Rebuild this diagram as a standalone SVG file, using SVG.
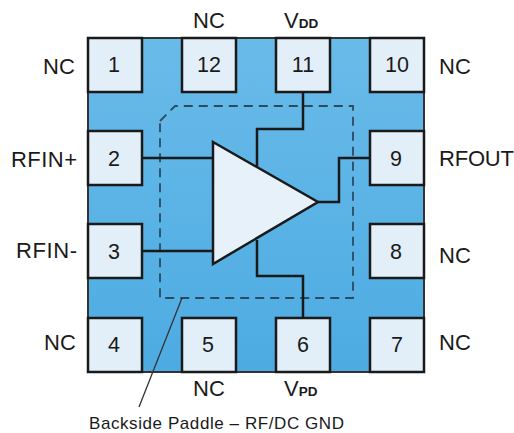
<svg xmlns="http://www.w3.org/2000/svg" width="514" height="433" viewBox="0 0 514 433">
<style>
text{font-family:"Liberation Sans",Arial,sans-serif;fill:#1a1a1a}
.l{font-size:22px}
.n{font-size:21.5px;text-anchor:middle}
.s{font-size:13.5px;font-weight:bold}
.p{fill:#e3eff8;stroke:#1a1a1a;stroke-width:2.5}
.w{fill:none;stroke:#1a1a1a;stroke-width:2.5}
</style>
<defs>
<linearGradient id="bg" x1="0" y1="0" x2="0" y2="1"><stop offset="0" stop-color="#69bbe9"/><stop offset="1" stop-color="#4dabe2"/></linearGradient>
</defs>
<g id="package"><rect x="88" y="38" width="336" height="334" fill="url(#bg)" stroke="#333" stroke-width="2"/></g>
<g id="paddle"><path d="M160 121L175 106H353V298H160Z" fill="none" stroke="#2c4a60" stroke-width="1.8" stroke-dasharray="9 6"/></g>
<g id="connectors">
<path class="w" d="M142 158H213M142 251H213M303 92V129H257V170M303 317V276H257V240M370 158H339V202H318"/>
<path d="M182 298L139 407" fill="none" stroke="#333" stroke-width="1.3"/>
</g>
<g id="amplifier"><path d="M213 142L318 202L213 264Z" fill="#e7f1f9" stroke="#1a1a1a" stroke-width="2.5"/></g>
<g id="pin1"><rect class="p" x="88" y="38" width="54" height="54"/><text class="n" x="114" y="71.500">1</text><text class="l" x="43" y="74">NC</text></g>
<g id="pin12"><rect class="p" x="182" y="38" width="54" height="54"/><text class="n" x="209" y="71.500">12</text><text class="l" x="193" y="27.500">NC</text></g>
<g id="pin11"><rect class="p" x="276" y="38" width="54" height="54"/><text class="n" x="303" y="71.500">11</text><text class="l" x="284" y="27.500">V<tspan class="s">DD</tspan></text></g>
<g id="pin10"><rect class="p" x="370" y="38" width="54" height="54"/><text class="n" x="397" y="71.500">10</text><text class="l" x="439" y="74">NC</text></g>
<g id="pin2"><rect class="p" x="88" y="131" width="54" height="54"/><text class="n" x="114" y="165.500">2</text><text class="l" x="11" y="166.500" textLength="66">RFIN+</text></g>
<g id="pin9"><rect class="p" x="370" y="131" width="54" height="54"/><text class="n" x="396" y="165.500">9</text><text class="l" x="439" y="165.500" textLength="75">RFOUT</text></g>
<g id="pin3"><rect class="p" x="88" y="224" width="54" height="54"/><text class="n" x="114" y="258.500">3</text><text class="l" x="16" y="257.500" textLength="61">RFIN-</text></g>
<g id="pin8"><rect class="p" x="370" y="224" width="54" height="54"/><text class="n" x="396" y="258.500">8</text><text class="l" x="439" y="262.500">NC</text></g>
<g id="pin4"><rect class="p" x="88" y="318" width="54" height="54"/><text class="n" x="114" y="351.500">4</text><text class="l" x="44" y="349.500">NC</text></g>
<g id="pin5"><rect class="p" x="182" y="318" width="54" height="54"/><text class="n" x="208" y="351.500">5</text><text class="l" x="193" y="396">NC</text></g>
<g id="pin6"><rect class="p" x="276" y="318" width="54" height="54"/><text class="n" x="303" y="351.500">6</text><text class="l" x="284" y="396">V<tspan class="s">PD</tspan></text></g>
<g id="pin7"><rect class="p" x="370" y="318" width="54" height="54"/><text class="n" x="397" y="351.500">7</text><text class="l" x="439" y="349.500">NC</text></g>
<text x="89" y="429" font-size="17" textLength="255">Backside Paddle – RF/DC GND</text>
</svg>
